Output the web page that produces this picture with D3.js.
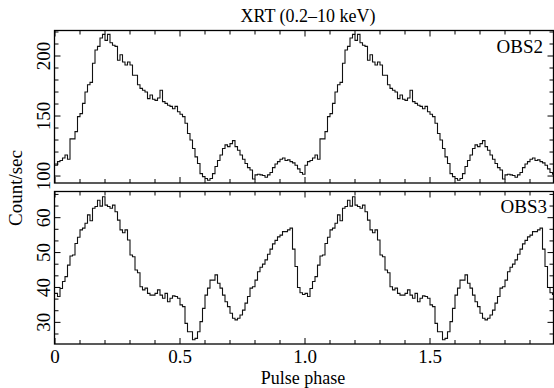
<!DOCTYPE html>
<html>
<head>
<meta charset="utf-8">
<script src="https://cdn.jsdelivr.net/npm/d3@7"></script>
<style>
  body { margin: 0; background: #fff; }
  svg text { font-family: "Liberation Serif", "DejaVu Serif", serif; fill: #000; }
</style>
</head>
<body>
<svg id="chart" width="554" height="388"></svg>
<script>
// one pulse cycle, bins of 0.01 in phase; drawn twice (phase 0-2)
const obs2Rate = [
  109, 112, 113, 115, 117.5, 114, 131, 131, 137, 149.5,
  152, 160.5, 170, 176, 178, 194, 205, 208, 215, 218,
  213, 218, 211, 209, 208, 196.5, 201, 195, 192.5, 195,
  192.5, 184, 184, 176, 173, 171.5, 170, 164.5, 167.5, 164,
  163, 165, 171.5, 162, 160.5, 159, 158, 156, 158, 153.5,
  151.5, 149.5, 144, 135.5, 130, 123, 116, 110.5, 102, 99.5,
  98, 96.5, 98, 102, 108, 113, 117.5, 123, 126, 124.5,
  127, 129.5, 124.5, 121.5, 117.5, 114, 110.5, 107, 105, 97.5,
  101, 101.5, 101, 100.5, 99, 101, 103, 107, 110, 112,
  114, 115, 113, 113.5, 112, 111, 109, 106, 103, 101.5
];
const obs3Rate = [
  38.3, 37.4, 39.7, 41.7, 43.1, 46.4, 49, 49.3, 52.6, 54.4,
  56.5, 57, 58.4, 60.8, 59.1, 62.7, 63.2, 65, 63.3, 66,
  63.6, 63.2, 62.7, 63.6, 61.7, 59.3, 56.5, 55.7, 56.5, 53.6,
  49.3, 48.8, 45, 44.2, 40.2, 39.3, 39.8, 38.3, 37.8, 37.8,
  38.3, 39.3, 37.8, 36.9, 38.3, 35.9, 36.9, 37.6, 37.4, 36.9,
  35, 34.5, 29.7, 27.3, 27.3, 25, 25.4, 27.3, 30.2, 34,
  37.8, 39.8, 42.1, 42.1, 43.6, 41.2, 39.8, 37.8, 35.9, 34.5,
  32.6, 31.2, 30.7, 31.2, 32.1, 33.5, 35.5, 37.4, 39.8, 40.2,
  42.1, 44.5, 45.8, 46.7, 47.9, 49.5, 51, 52.5, 53.5, 54.5,
  55, 56, 56, 56.5, 57, 51, 46, 40, 38.5, 38
];
const binWidth = 0.01;
const nCycles = 2;
const xTickLabels = [0, 0.5, 1.0, 1.5];
const obs2Labels = [100, 150, 200];
const obs3Labels = [30, 40, 50, 60];

const svg = d3.select('#chart');
const left = 54.5, right = 553.5;
const x = d3.scaleLinear().domain([0, 2]).range([55, 555]);

const panels = [
  { name: 'OBS2', rate: obs2Rate, top: 30.5, bottom: 183, domain: [94.2, 221.25],
    labels: obs2Labels, minor: d3.range(100, 221, 10), major: obs2Labels, tagX: 543, tagY: 53 },
  { name: 'OBS3', rate: obs3Rate, top: 191.5, bottom: 344, domain: [23.8, 67.5],
    labels: obs3Labels, minor: d3.range(20, 70, 10 / 3), major: obs3Labels, tagX: 547, tagY: 213 }
];

panels.forEach((p, i) => {
  const y = d3.scaleLinear().domain(p.domain).range([p.bottom, p.top]);
  const g = svg.append('g');

  const clipId = 'clip' + i;
  svg.append('clipPath').attr('id', clipId)
    .append('rect').attr('x', left).attr('y', p.top)
    .attr('width', right - left).attr('height', p.bottom - p.top);

  // step profile, the cycle repeated
  const pts = [];
  for (let c = 0; c < nCycles; c++) {
    p.rate.forEach((v, k) => pts.push([c + k * binWidth, v]));
  }
  pts.push([nCycles, p.rate[p.rate.length - 1]]);
  const line = d3.line().x(d => x(d[0])).y(d => y(d[1])).curve(d3.curveStepAfter);
  g.append('path')
    .attr('clip-path', `url(#${clipId})`)
    .attr('d', line(pts))
    .attr('fill', 'none')
    .attr('stroke', '#111')
    .attr('stroke-width', 1.1);

  // x ticks on top and bottom edges
  const xt = d3.range(0, 20).map(k => k / 10).filter(v => x(v) <= right);
  xt.forEach(v => {
    const len = Math.abs(v * 2 - Math.round(v * 2)) < 1e-6 ? 6 : 4;
    const xx = x(v);
    g.append('line').attr('x1', xx).attr('x2', xx).attr('y1', p.bottom).attr('y2', p.bottom - len)
      .attr('stroke', '#000');
    g.append('line').attr('x1', xx).attr('x2', xx).attr('y1', p.top).attr('y2', p.top + len)
      .attr('stroke', '#000');
  });

  // y ticks on both sides
  p.minor.filter(v => v >= p.domain[0] && v <= p.domain[1]).forEach(v => {
    const isMajor = p.major.some(m => Math.abs(m - v) < 1e-6);
    const len = isMajor ? 6 : 4;
    const yy = y(v);
    g.append('line').attr('x1', left).attr('x2', left + len).attr('y1', yy).attr('y2', yy)
      .attr('stroke', '#000');
    g.append('line').attr('x1', right).attr('x2', right - len).attr('y1', yy).attr('y2', yy)
      .attr('stroke', '#000');
  });

  // y tick labels, rotated
  p.labels.forEach(v => {
    g.append('text')
      .attr('transform', `translate(50,${y(v)}) rotate(-90)`)
      .attr('text-anchor', 'middle')
      .style('font-size', '19px')
      .text(v);
  });

  g.append('rect')
    .attr('x', left).attr('y', p.top)
    .attr('width', right - left).attr('height', p.bottom - p.top)
    .attr('fill', 'none').attr('stroke', '#000').attr('stroke-width', 1.3);

  g.append('text')
    .attr('x', p.tagX).attr('y', p.tagY)
    .attr('text-anchor', 'end')
    .style('font-size', '19px')
    .text(p.name);
});

// x tick labels under the bottom panel
xTickLabels.forEach(v => {
  svg.append('text')
    .attr('x', x(v)).attr('y', 363)
    .attr('text-anchor', 'middle')
    .style('font-size', '19px')
    .text(v === 0 ? '0' : v.toFixed(1));
});

svg.append('text')
  .attr('x', 303).attr('y', 384)
  .attr('text-anchor', 'middle')
  .style('font-size', '18px')
  .text('Pulse phase');

svg.append('text')
  .attr('transform', 'translate(22,188) rotate(-90)')
  .attr('text-anchor', 'middle')
  .style('font-size', '19px')
  .text('Count/sec');

svg.append('text')
  .attr('x', 308).attr('y', 22)
  .attr('text-anchor', 'middle')
  .style('font-size', '18px')
  .text('XRT (0.2\u201310 keV)');
</script>
</body>
</html>
